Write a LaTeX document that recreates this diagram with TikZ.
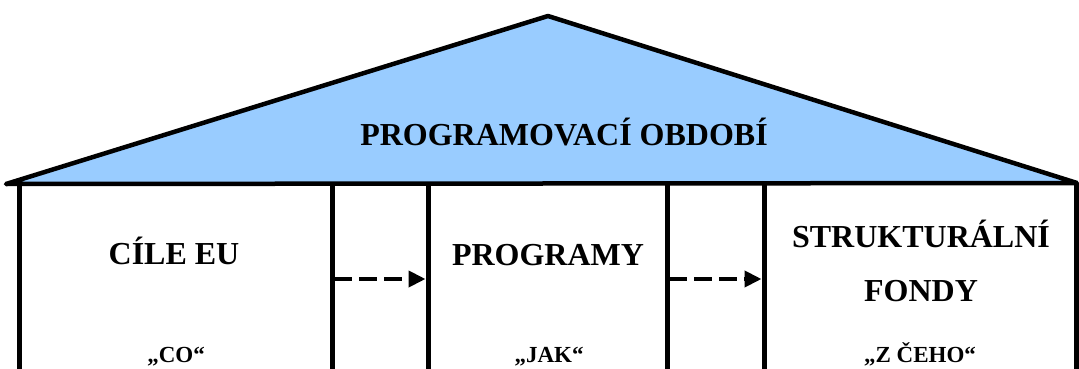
\documentclass[tikz,border=0pt]{standalone}
\usepackage{fontspec}
\setmainfont{Liberation Serif}
\usetikzlibrary{arrows.meta}
\definecolor{roofblue}{HTML}{99CCFF}
\tikzset{
  wall/.style={line width=5pt},
  roof/.style={line width=4.5pt, fill=roofblue, line join=round},
  flow/.style={line width=4pt, dash pattern=on 18pt off 7pt, -{Triangle[length=17pt,width=16pt]}},
  big/.style={font=\fontsize{32}{36}\selectfont\bfseries, anchor=base, inner sep=0pt},
  small/.style={font=\fontsize{23}{26}\selectfont\bfseries, anchor=base, inner sep=0pt}
}
\begin{document}
\begin{tikzpicture}[x=1pt,y=-1pt]
\useasboundingbox (0,0) rectangle (1079,369);
% roof
\coordinate (rl) at (6,184);
\coordinate (ra) at (548,16);
\coordinate (rr) at (1077,183);
\draw[roof] (rl) -- (ra) -- (rr) -- cycle;
% walls
\foreach \n/\x in {w1/19.5, w2/332, w3/428, w4/667, w5/764, w6/1076}{
  \coordinate (\n t) at (\x,184);
  \coordinate (\n b) at (\x,372);
  \draw[wall] (\n t) -- (\n b);
}
% arrows
\coordinate (a1s) at (334,279);
\coordinate (a1e) at (425.5,279);
\coordinate (a2s) at (669,279);
\coordinate (a2e) at (761.5,279);
\draw[flow] (a1s) -- (a1e);
\draw[flow] (a2s) -- (a2e);
% texts
\node[big] (title) at (564,145) {PROGRAMOVACÍ OBDOBÍ};
\node[big] (cile) at (174,264) {CÍLE EU};
\node[big] (prog) at (548,265) {PROGRAMY};
\node[big] (stru) at (921,247) {STRUKTURÁLNÍ};
\node[big] (fondy) at (921,301) {FONDY};
\node[small] (co) at (176,362) {„CO“};
\node[small] (jak) at (549,362) {„JAK“};
\node[small] (zceho) at (920,362) {„Z ČEHO“};
\end{tikzpicture}
\end{document}
